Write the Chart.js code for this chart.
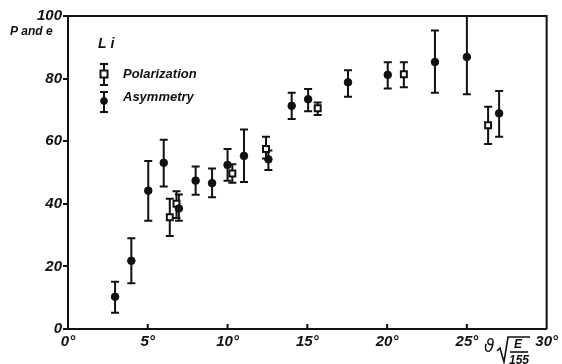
<!DOCTYPE html>
<html>
<head>
<meta charset="utf-8">
<script src="https://cdn.jsdelivr.net/npm/chart.js@4/dist/chart.umd.min.js"></script>
<style>
  body { margin: 0; background: #fff; }
</style>
</head>
<body>
<canvas id="chart" width="562" height="364"></canvas>
<script>
// values (angle in degrees, P and e in %)
var asymX  = [2.95, 3.97, 5.03, 6.0, 6.95, 8.0, 9.03, 10.0, 11.03, 12.56, 14.02, 15.05, 17.55, 20.04, 23.0, 25.0, 27.02];
var asymY  = [10.3, 21.8, 44.2, 53.1, 38.5, 47.4, 46.6, 52.4, 55.3, 54.2, 71.3, 73.4, 78.8, 81.2, 85.3, 86.9, 68.9];
var asymLo = [5.2, 14.6, 34.6, 45.5, 34.6, 42.9, 42.1, 47.4, 47.0, 50.8, 67.1, 69.6, 74.2, 76.8, 75.5, 75.0, 61.4];
var asymHi = [15.1, 29.0, 53.7, 60.5, 43.0, 51.9, 51.3, 57.5, 63.7, 57.0, 75.5, 76.7, 82.7, 85.2, 95.4, 100, 76.0];

var polX  = [6.38, 6.8, 10.3, 12.41, 15.65, 21.05, 26.33];
var polY  = [35.7, 40.0, 49.7, 57.5, 70.5, 81.4, 65.1];
var polLo = [29.7, 35.5, 46.7, 54.5, 68.4, 77.2, 59.1];
var polHi = [41.6, 44.0, 52.6, 61.4, 72.4, 85.2, 71.0];

var xTicks = [0, 5, 10, 15, 20, 25, 30];
var yTicks = [0, 20, 40, 60, 80, 100];

var INK = '#111';
var FONT = '"Liberation Sans", Arial, sans-serif';

function points(xs, ys, lo, hi){
    return xs.map(function(x, i){
        return {x: x, y: ys[i], lo: lo[i], hi: hi[i]};
    });
}

function drawBar(ctx, x, yTop, yBot){
    ctx.beginPath();
    ctx.moveTo(x, yTop); ctx.lineTo(x, yBot);
    ctx.moveTo(x - 4, yTop); ctx.lineTo(x + 4, yTop);
    ctx.moveTo(x - 4, yBot); ctx.lineTo(x + 4, yBot);
    ctx.stroke();
}

// error bars, drawn under the markers
var errorBars = {
    id: 'errorBars',
    beforeDatasetsDraw: function(chart){
        var ctx = chart.ctx, xs = chart.scales.x, ys = chart.scales.y;
        ctx.save();
        ctx.strokeStyle = INK;
        ctx.lineWidth = 2;
        chart.data.datasets.forEach(function(ds){
            ds.data.forEach(function(p){
                drawBar(ctx, xs.getPixelForValue(p.x), ys.getPixelForValue(p.hi), ys.getPixelForValue(p.lo));
            });
        });
        ctx.restore();
    }
};

// frame, inner x ticks, legend block, axis labels
var decorations = {
    id: 'decorations',
    afterDraw: function(chart){
        var ctx = chart.ctx, a = chart.chartArea, xs = chart.scales.x;
        ctx.save();
        ctx.strokeStyle = INK;
        ctx.lineWidth = 2;
        ctx.beginPath();
        ctx.moveTo(a.left, a.top); ctx.lineTo(a.right, a.top); ctx.lineTo(a.right, a.bottom);
        ctx.stroke();

        ctx.beginPath();
        xTicks.slice(1, -1).forEach(function(t){
            var px = xs.getPixelForValue(t);
            ctx.moveTo(px, a.bottom); ctx.lineTo(px, a.bottom - 5);
        });
        ctx.stroke();

        ctx.fillStyle = INK;
        ctx.textBaseline = 'middle';
        ctx.textAlign = 'left';
        ctx.font = 'italic bold 12px ' + FONT;
        ctx.fillText('P and e', 10, 32);

        ctx.font = 'italic bold 14px ' + FONT;
        ctx.fillText('L i', 98, 44);

        // legend entries
        drawBar(ctx, 104, 64, 85);
        ctx.fillStyle = '#fff';
        ctx.fillRect(100.5, 70.5, 7, 7);
        ctx.strokeRect(100.5, 70.5, 7, 7);
        drawBar(ctx, 104, 92, 112);
        ctx.fillStyle = INK;
        ctx.beginPath();
        ctx.arc(104, 101, 3.8, 0, Math.PI * 2);
        ctx.fill();

        ctx.font = 'italic bold 13px ' + FONT;
        ctx.fillText('Polarization', 123, 74);
        ctx.fillText('Asymmetry', 123, 97);

        // x-axis label: theta * sqrt(E/155)
        ctx.font = 'italic 17px "DejaVu Sans"';
        ctx.fillText('\u03d1', 484, 348);
        ctx.lineWidth = 1.6;
        ctx.beginPath();
        ctx.moveTo(497, 351); ctx.lineTo(500, 348); ctx.lineTo(504, 362);
        ctx.lineTo(508, 337); ctx.lineTo(530, 337);
        ctx.stroke();
        ctx.textAlign = 'center';
        ctx.font = 'italic bold 12px ' + FONT;
        ctx.fillText('E', 518, 345);
        ctx.beginPath();
        ctx.moveTo(510, 352); ctx.lineTo(528, 352);
        ctx.stroke();
        ctx.fillText('155', 519, 361);
        ctx.restore();
    }
};

var tickFont = {family: FONT, size: 15, weight: 'bold', style: 'italic'};

new Chart(document.getElementById('chart'), {
    type: 'scatter',
    data: {
        datasets: [
            {
                label: 'Asymmetry',
                data: points(asymX, asymY, asymLo, asymHi),
                pointStyle: 'circle',
                pointRadius: 3.8,
                backgroundColor: INK,
                borderColor: INK,
                borderWidth: 1
            },
            {
                label: 'Polarization',
                data: points(polX, polY, polLo, polHi),
                pointStyle: 'rect',
                pointRadius: 4.2,
                backgroundColor: '#fff',
                borderColor: INK,
                borderWidth: 2
            }
        ]
    },
    options: {
        responsive: false,
        animation: false,
        layout: { padding: { top: 16, right: 15, left: 0, bottom: 0 } },
        plugins: {
            legend: { display: false },
            tooltip: { enabled: false }
        },
        scales: {
            x: {
                type: 'linear',
                min: 0, max: 30,
                afterFit: function(s){ s.height = 35; },
                afterBuildTicks: function(s){ s.ticks = xTicks.map(function(v){ return {value: v}; }); },
                ticks: {
                    color: INK, font: tickFont, padding: 4, maxRotation: 0,
                    callback: function(v){ return v + '°'; }
                },
                grid: { drawOnChartArea: false, drawTicks: false },
                border: { color: INK, width: 2 }
            },
            y: {
                min: 0, max: 100,
                afterFit: function(s){ s.width = 68; },
                afterBuildTicks: function(s){ s.ticks = yTicks.map(function(v){ return {value: v}; }); },
                ticks: { color: INK, font: tickFont, padding: 1 },
                grid: { drawOnChartArea: false, tickLength: 5, color: INK, lineWidth: 2 },
                border: { color: INK, width: 2 }
            }
        }
    },
    plugins: [errorBars, decorations]
});
</script>
</body>
</html>
